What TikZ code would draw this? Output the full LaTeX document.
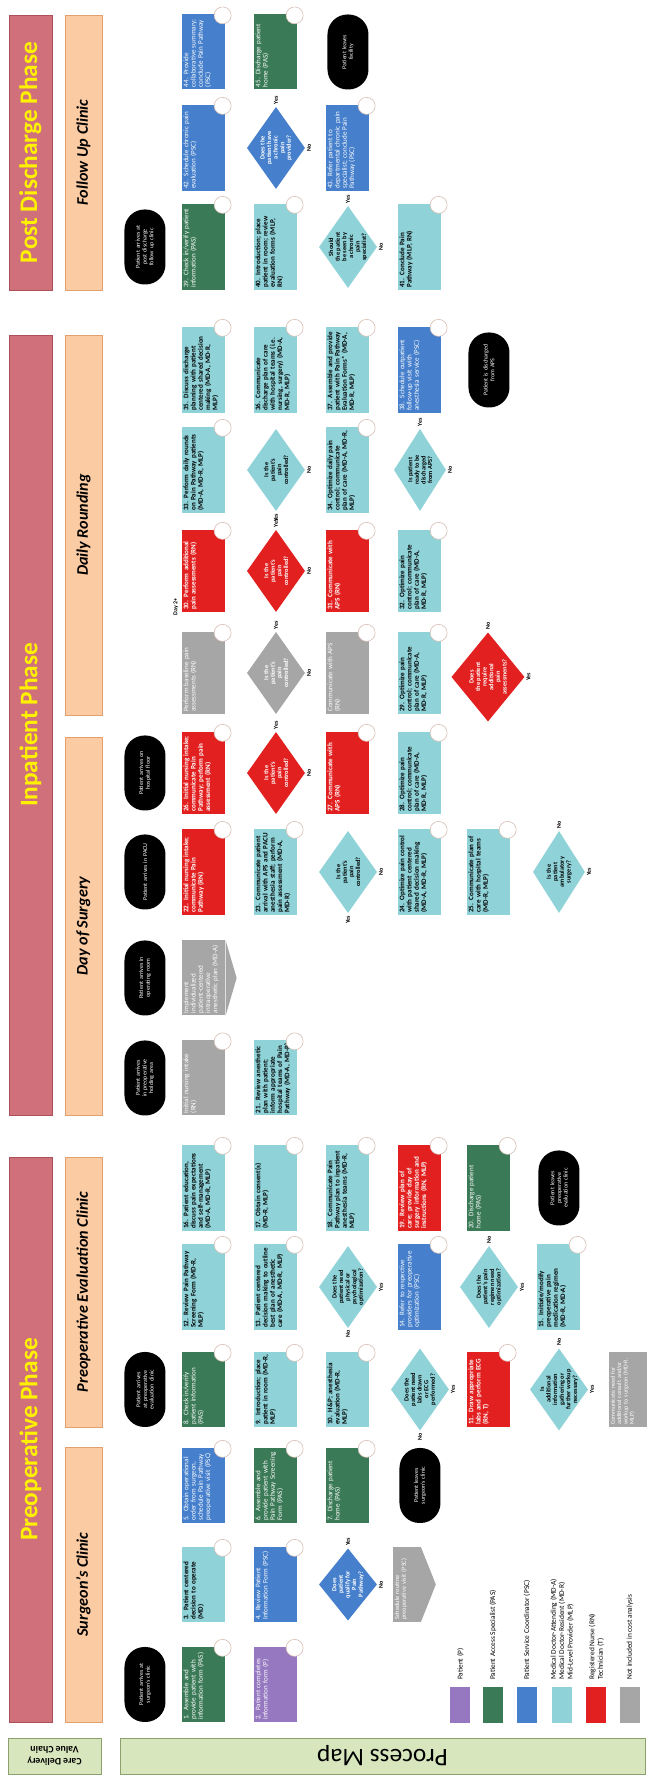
\documentclass[tikz,border=0pt]{standalone}
\usepackage{fontspec}
\setmainfont{Carlito}
\usepackage{tikz}
\usetikzlibrary{positioning}
\usetikzlibrary{shapes.geometric}
\usetikzlibrary{backgrounds}
\usetikzlibrary{calc}

\definecolor{tealc}{RGB}{143,211,217}
\definecolor{grnc}{RGB}{59,122,87}
\definecolor{bluc}{RGB}{70,128,204}
\definecolor{redc}{RGB}{226,32,32}
\definecolor{gryc}{RGB}{166,166,166}
\definecolor{purc}{RGB}{149,120,192}
\definecolor{phasec}{RGB}{208,112,122}
\definecolor{phased}{RGB}{170,80,90}
\definecolor{subc}{RGB}{251,203,163}
\definecolor{subd}{RGB}{225,160,110}
\definecolor{vcc}{RGB}{216,230,190}
\definecolor{vcd}{RGB}{140,160,110}
\definecolor{yelc}{RGB}{255,242,0}
\definecolor{bubc}{RGB}{215,190,180}

\hyphenpenalty=10000
\exhyphenpenalty=10000

\begin{document}
\begin{tikzpicture}[x=0.5mm, y=0.5mm, rotate=90, transform shape,
	proc/.style={rectangle, inner xsep=1.2mm, inner ysep=0.3mm, text height=2.6mm, text depth=18.3mm, text width=38.6mm, align=left, font=\fontsize{10}{10.3}\selectfont},
	narrow/.style={text width=35.1mm},
	wide/.style={text width=40.6mm},
	tbox/.style={proc, fill=tealc, font=\fontsize{10}{10.3}\selectfont\bfseries},
	gbox/.style={proc, fill=grnc, text=white},
	bbox/.style={proc, fill=bluc, text=white},
	rbox/.style={proc, fill=redc, text=white, font=\fontsize{10}{10.3}\selectfont\bfseries},
	ybox/.style={proc, fill=gryc, text=white},
	pbox/.style={proc, fill=purc, text=white},
	term/.style={rectangle, rounded corners=10mm, fill=black, text=white, minimum width=37.5mm, minimum height=20.5mm, text width=30mm, align=center, font=\fontsize{8.5}{9.5}\selectfont},
	dia/.style={diamond, inner sep=0pt, minimum width=41mm, minimum height=29mm},
	dtxt/.style={align=center, text=black, font=\fontsize{9}{9.4}\selectfont\bfseries},
	dtxtw/.style={dtxt, text=white},
	yn/.style={inner sep=0.4mm, font=\fontsize{8.5}{9}\selectfont\bfseries},
	bub/.style={circle, draw=bubc, line width=0.3mm, fill=white, minimum size=8.5mm, inner sep=0pt},
	faint/.style={draw=black!10, line width=0.7mm},
	phase/.style={rectangle, fill=phasec, draw=phased, line width=0.4mm, minimum height=21.5mm, text=yelc, font=\fontsize{36}{38}\selectfont\bfseries},
	clinic/.style={rectangle, fill=subc, draw=subd, line width=0.4mm, minimum height=18.5mm, font=\fontsize{23}{25}\selectfont\bfseries\itshape},
	vc/.style={rectangle, fill=vcc, draw=vcd, line width=0.4mm, align=center},
	swatch/.style={rectangle, minimum width=18mm, minimum height=10mm},
	legtxt/.style={align=left, inner sep=0pt, font=\fontsize{10.5}{12}\selectfont}]

	\useasboundingbox (0,0) rectangle (1775,647);
	\fill[white] (0,0) rectangle (1775,647);

	\node[phase, minimum width=282.5mm] (pre) at (335.5,616.5) {Preoperative Phase};
	\node[phase, minimum width=390mm] (inp) at (1050,616.5) {Inpatient Phase};
	\node[phase, minimum width=137.5mm] (post) at (1622.5,616.5) {Post Discharge Phase};
	\node[clinic, minimum width=137.5mm] (surg) at (190.5,563.5) {Surgeon's Clinic};
	\node[clinic, minimum width=135mm] (peval) at (483,563.5) {Preoperative Evaluation Clinic};
	\node[clinic, minimum width=189mm] (dos) at (849,563.5) {Day of Surgery};
	\node[clinic, minimum width=190mm] (drnd) at (1250,563.5) {Daily Rounding};
	\node[clinic, minimum width=137.5mm] (fup) at (1622.5,563.5) {Follow Up Clinic};

	\node[vc, rotate=90, minimum width=46.5mm, minimum height=18mm, font=\fontsize{14}{16}\selectfont\bfseries] (cdvc) at (19,592.5) {Care Delivery\\Value Chain};
	\node[vc, rotate=90, minimum width=262.5mm, minimum height=18mm, font=\fontsize{36}{38}\selectfont] (pmap) at (19,264.5) {Process Map};

	% surgeon's clinic
	\node[term] (tA) at (90.5,502) {Patient arrives at\\surgeon's clinic};
	\node[gbox, narrow] (a1) at (90.5,443) {1. Assemble and provide patient with information form (PAS)};
	\node[pbox, narrow] (a2) at (90.5,371) {2. Patient completes information form (P)};
	\node[tbox, narrow] (b1) at (190.5,443) {3. Patient centered decision to operate (MD)};
	\node[bbox, narrow] (b2) at (190.5,371) {4. Review Patient Information Form (PSC)};
	\node[dia, fill=bluc, minimum width=36mm, label={[dtxtw]center:{Does\\patient\\qualify for\\Pain\\Pathway?}}] (b3) at (190.5,299) {};
	\node[ybox, narrow, text depth=10.5mm, font=\fontsize{9}{9.6}\selectfont] (b4) at (190.5,240) {Schedule routine preoperative visit (PSC)};
	\node[bbox, narrow] (c1) at (289.5,443) {5. Obtain operational order from surgeon, schedule Pain Pathway preoperative visit (PSC)};
	\node[gbox, narrow] (c2) at (289.5,371) {6. Assemble and provide patient with Pain Pathway Screening Form (PAS)};
	\node[gbox, narrow] (c3) at (289.5,299) {7. Discharge patient home (PAS)};
	\node[term] (c4) at (289.5,227) {Patient leaves\\surgeon's clinic};

	% preoperative evaluation clinic
	\node[term] (tD) at (385.5,502) {Patient arrives at preoperative evaluation clinic};
	\node[gbox, narrow] (d1) at (385.5,443) {8. Check in/verify patient information (PAS)};
	\node[tbox, narrow] (d2) at (385.5,371) {9. Introduction; place patient in room (MD-R, MLP)};
	\node[tbox, narrow] (d3) at (385.5,299) {10. H\&P; anesthesia evaluation (MD-R, MLP)};
	\node[dia, fill=tealc, label={[dtxt]center:{Does the\\patient need\\labs drawn\\or ECG\\performed?}}] (d4) at (385.5,227) {};
	\node[rbox, narrow] (d5) at (385.5,158) {11. Draw appropriate labs and perform ECG (RN, T)};
	\node[dia, fill=tealc, label={[dtxt]center:{Is\\additional\\information\\gathering or\\further workup\\necessary?}}] (d6) at (385.5,88) {};
	\node[ybox, narrow, text depth=15.7mm, font=\fontsize{8.5}{9}\selectfont] (d7) at (385.5,19) {Communicate need for additional consult and/or workup to surgeon (MD-R, MLP)};
	\node[tbox, wide] (e1) at (488,443) {12. Review Pain Pathway Screening Form (MD-R, MLP)};
	\node[tbox, wide] (e2) at (488,371) {13. Patient centered decision making to outline best plan of anesthetic care (MD-A, MD-R, MLP)};
	\node[dia, fill=tealc, label={[dtxt]center:{Does the\\patient need\\physical or\\psychological\\optimization?}}] (e3) at (488,299) {};
	\node[bbox, wide] (e4) at (488,227) {14. Refer to respective providers for preoperative optimization (PSC)};
	\node[dia, fill=tealc, label={[dtxt]center:{Does the\\patient's pain\\regimen need\\optimization?}}] (e5) at (488,158) {};
	\node[tbox, wide] (e6) at (488,88) {15. Initiate/modify preoperative pain medication regimen (MD-R, MD-A)};
	\node[tbox, wide] (f1) at (587,443) {16. Patient education, discuss pain expectations and self-management (MD-A, MD-R, MLP)};
	\node[tbox, wide] (f2) at (587,371) {17. Obtain consent(s) (MD-R, MLP)};
	\node[tbox, wide] (f3) at (587,299) {18. Communicate Pain Pathway plan to inpatient anesthesia teams (MD-R, MLP)};
	\node[rbox, wide] (f4) at (587,227) {19. Review plan of care; provide day of surgery information and instructions (RN, MLP)};
	\node[gbox, wide] (f5) at (587,158) {20. Discharge patient home (PAS)};
	\node[term] (f6) at (587,88) {Patient leaves preoperative evaluation clinic};

	% day of surgery
	\node[term] (tG) at (697,502) {Patient arrives in preoperative holding area};
	\node[ybox, narrow] (g1) at (697,443) {Initial nursing intake (RN)};
	\node[tbox, narrow] (g2) at (697,371) {21. Review anesthetic plan with patient; inform appropriate hospital teams of Pain Pathway (MD-A, MD-R)};
	\node[term] (tH) at (797,502) {Patient arrives in operating room};
	\node[ybox, narrow] (h1) at (797,443) {Implement individualized patient-centered intraoperative anesthetic plan (MD-A)};
	\node[term] (tI) at (903,502) {Patient arrives in PACU};
	\node[rbox, wide] (i1) at (903,443) {22. Initial nursing intake; communicate Pain Pathway (RN)};
	\node[tbox, wide] (i2) at (903,371) {23. Communicate patient arrival with APS and PACU anesthesia staff; perform pain assessment (MD-A, MD-R)};
	\node[dia, fill=tealc, label={[dtxt]center:{Is the\\patient's\\pain\\controlled?}}] (i3) at (903,299) {};
	\node[tbox, wide] (i4) at (903,227) {24. Optimize pain control with patient centered shared decision making (MD-A, MD-R, MLP)};
	\node[tbox, wide] (i5) at (903,158) {25. Communicate plan of care with hospital teams (MD-R, MLP)};
	\node[dia, fill=tealc, minimum height=26mm, label={[dtxt]center:{Is the\\patient\\ambulatory\\surgery?}}] (i6) at (903,88) {};
	\node[term] (tJ) at (1002,502) {Patient arrives on hospital floor};
	\node[rbox] (j1) at (1002,443) {26. Initial nursing intake; communicate Pain Pathway; perform pain assessment (RN)};
	\node[dia, fill=redc, label={[dtxtw]center:{Is the\\patient's\\pain\\controlled?}}] (j2) at (1002,371) {};
	\node[rbox] (j3) at (1002,299) {27. Communicate with APS (RN)};
	\node[tbox] (j4) at (1002,227) {28. Optimize pain control; communicate plan of care (MD-A, MD-R, MLP)};

	% daily rounding
	\node[ybox] (k1) at (1102,443) {Perform baseline pain assessments (RN)};
	\node[dia, fill=gryc, label={[dtxtw]center:{Is the\\patient's\\pain\\controlled?}}] (k2) at (1102,371) {};
	\node[ybox] (k3) at (1102,299) {Communicate with APS (RN)};
	\node[tbox] (k4) at (1102,227) {29. Optimize pain control; communicate plan of care (MD-A, MD-R, MLP)};
	\node[dia, fill=redc, minimum width=44.5mm, minimum height=36.5mm, label={[dtxtw]center:{Does\\the patient\\require\\additional\\pain\\assessments?}}] (k5) at (1098,159) {};
	\node[yn] (day2) at (1168,471) {Day 2+};
	\node[rbox] (l1) at (1204,443) {30. Perform additional pain assessments (RN)};
	\node[dia, fill=redc, label={[dtxtw]center:{Is the\\patient's\\pain\\controlled?}}] (l2) at (1204,371) {};
	\node[rbox] (l3) at (1204,299) {31. Communicate with APS (RN)};
	\node[tbox] (l4) at (1204,227) {32. Optimize pain control; communicate plan of care (MD-A, MD-R, MLP)};
	\node[tbox, wide] (m1) at (1305,443) {33. Perform daily rounds on Pain Pathway patients (MD-A, MD-R, MLP)};
	\node[dia, fill=tealc, label={[dtxt]center:{Is the\\patient's\\pain\\controlled?}}] (m2) at (1305,371) {};
	\node[tbox, wide] (m3) at (1305,299) {34. Optimize daily pain control; communicate plan of care (MD-A, MD-R, MLP)};
	\node[dia, fill=tealc, minimum height=26mm, label={[dtxt]center:{Is patient\\ready to be\\discharged\\from APS?}}] (m4) at (1305,227) {};
	\node[tbox, wide] (n1) at (1405,443) {35. Discuss discharge planning with patient centered shared decision making (MD-A, MD-R, MLP)};
	\node[tbox, wide] (n2) at (1405,371) {36. Communicate discharge plan of care with hospital teams (i.e. nursing, surgery) (MD-A, MD-R, MLP)};
	\node[tbox, wide] (n3) at (1405,299) {37. Assemble and provide patient with Pain Pathway Evaluation Forms* (MD-A, MD-R, MLP)};
	\node[bbox, wide] (n4) at (1405,227) {38. Schedule outpatient follow-up visit with anesthesia service (PSC)};
	\node[term] (n5) at (1405,158) {Patient is discharged from APS};

	% follow up clinic
	\node[term] (tO) at (1528,502) {Patient arrives at post discharge follow up clinic};
	\node[gbox, wide] (o1) at (1528,443) {39. Check in/verify patient information (PAS)};
	\node[tbox, wide] (o2) at (1528,371) {40. Introduction; place patient in room; review evaluation forms (MLP, RN)};
	\node[dia, fill=tealc, label={[dtxt]center:{Should\\the patient\\be seen by\\a chronic\\pain\\specialist?}}] (o3) at (1528,299) {};
	\node[tbox, wide] (o4) at (1528,227) {41. Conclude Pain Pathway (MLP, RN)};
	\node[bbox, wide] (p1) at (1627,443) {42. Schedule chronic pain evaluation (PSC)};
	\node[dia, fill=bluc, label={[dtxtw]center:{Does the\\patient have\\a chronic\\pain\\provider?}}] (p2) at (1627,371) {};
	\node[bbox, wide] (p3) at (1627,299) {43. Refer patient to departmental chronic pain specialist; conclude Pain Pathway (PSC)};
	\node[bbox, narrow] (q1) at (1723,443) {44. Provide collaborative summary; conclude Pain Pathway (PSC)};
	\node[gbox, narrow] (q2) at (1723,371) {45. Discharge patient home (PAS)};
	\node[term] (q3) at (1723,299) {Patient leaves\\facility};

	\fill[gryc] (b4.south west) -- (b4.south east) -- ($(b4.south)+(0,-15)$) -- cycle;
	\fill[gryc] (h1.south west) -- (h1.south east) -- ($(h1.south)+(0,-11)$) -- cycle;

	\foreach \n in {a1,a2,b1,b2,c1,c2,c3,d1,d2,d3,d5,e1,e2,e4,e6,f1,f2,f3,f4,f5,g1,g2,i1,i2,i4,i5,j1,j3,j4,k1,k3,k4,l1,l3,l4,m1,m3,n1,n2,n3,n4,o1,o2,o4,p1,p3,q1,q2}
		\node[bub] (bub\n) at ($(\n.south east)+(-1,3)$) {};

	% yes / no
	\node[yn, right=0.8mm of b3.east] (b3y) {Yes};
	\node[yn, below=0.5mm of b3.south] (b3n) {No};
	\node[yn, below=0.5mm of d4.south] (d4y) {Yes};
	\node[yn, left=0.8mm of d4.west] (d4n) {No};
	\node[yn, right=0.8mm of d6.east] (d6n) {No};
	\node[yn, below=0.5mm of d6.south] (d6y) {Yes};
	\node[yn, below=0.5mm of e3.south] (e3y) {Yes};
	\node[yn, left=0.8mm of e3.west] (e3n) {No};
	\node[yn, right=0.8mm of e5.east] (e5n) {No};
	\node[yn, below=0.5mm of e5.south] (e5y) {Yes};
	\node[yn, left=0.8mm of i3.west] (i3y) {Yes};
	\node[yn, below=0.5mm of i3.south] (i3n) {No};
	\node[yn, right=0.8mm of i6.east] (i6n) {No};
	\node[yn, below=0.5mm of i6.south] (i6y) {Yes};
	\node[yn, right=0.8mm of j2.east] (j2y) {Yes};
	\node[yn, below=0.5mm of j2.south] (j2n) {No};
	\node[yn, right=0.8mm of k2.east] (k2y) {Yes};
	\node[yn, below=0.5mm of k2.south] (k2n) {No};
	\node[yn, right=0.8mm of k5.east] (k5n) {No};
	\node[yn, below=0.5mm of k5.south] (k5y) {Yes};
	\node[yn, right=0.8mm of l2.east] (l2y) {Yes};
	\node[yn, below=0.5mm of l2.south] (l2n) {No};
	\node[yn, left=0.8mm of m2.west] (m2y) {Yes};
	\node[yn, below=0.5mm of m2.south] (m2n) {No};
	\node[yn, right=0.8mm of m4.east] (m4y) {Yes};
	\node[yn, below=0.5mm of m4.south] (m4n) {No};
	\node[yn, right=0.8mm of o3.east] (o3y) {Yes};
	\node[yn, below=0.5mm of o3.south] (o3n) {No};
	\node[yn, right=0.8mm of p2.east] (p2y) {Yes};
	\node[yn, below=0.5mm of p2.south] (p2n) {No};

	% legend
	\node[swatch, fill=purc] (lgp) at (70,186.5) {};
	\node[swatch, fill=grnc] (lgg) at (70,154) {};
	\node[swatch, fill=bluc] (lgb) at (70,120) {};
	\node[swatch, fill=tealc] (lgt) at (70,85) {};
	\node[swatch, fill=redc] (lgr) at (70,50.5) {};
	\node[swatch, fill=gryc] (lgy) at (70,17) {};
	\node[legtxt, right=3.5mm of lgp] (lgpt) {Patient (P)};
	\node[legtxt, right=3.5mm of lgg] (lggt) {Patient Access Specialist (PAS)};
	\node[legtxt, right=3.5mm of lgb] (lgbt) {Patient Service Coordinator (PSC)};
	\node[legtxt, right=3.5mm of lgt] (lgtt) {Medical Doctor-Attending (MD-A)\\Medical Doctor-Resident (MD-R)\\Mid-Level Provider (MLP)};
	\node[legtxt, right=3.5mm of lgr] (lgrt) {Registered Nurse (RN)\\Technician (T)};
	\node[legtxt, right=3.5mm of lgy] (lgyt) {Not included in cost analysis};

	\begin{scope}[on background layer]
		\foreach \u/\v in {tA/a1,a1/a2,b1/b2,b2/b3,b3/b4,c1/c2,c2/c3,c3/c4,tD/d1,d1/d2,d2/d3,d3/d4,d4/d5,d5/d6,d6/d7,e1/e2,e2/e3,e3/e4,e4/e5,e5/e6,f1/f2,f2/f3,f3/f4,f4/f5,f5/f6,tG/g1,g1/g2,tH/h1,tI/i1,i1/i2,i2/i3,i3/i4,i4/i5,i5/i6,tJ/j1,j1/j2,j2/j3,j3/j4,k1/k2,k2/k3,k3/k4,k4/k5,l1/l2,l2/l3,l3/l4,m1/m2,m2/m3,m3/m4,n1/n2,n2/n3,n3/n4,n4/n5,tO/o1,o1/o2,o2/o3,o3/o4,p1/p2,p2/p3,q1/q2,q2/q3}
			\draw[faint] (\u) -- (\v);
		\draw[faint] (o4.east) -| (q3.west);
		\draw[faint] (640,89) -- (640,504);
		\draw[faint] (748,374) -- (748,490);
		\draw[faint] (848,440) -- (848,502);
	\end{scope}

\end{tikzpicture}
\end{document}
